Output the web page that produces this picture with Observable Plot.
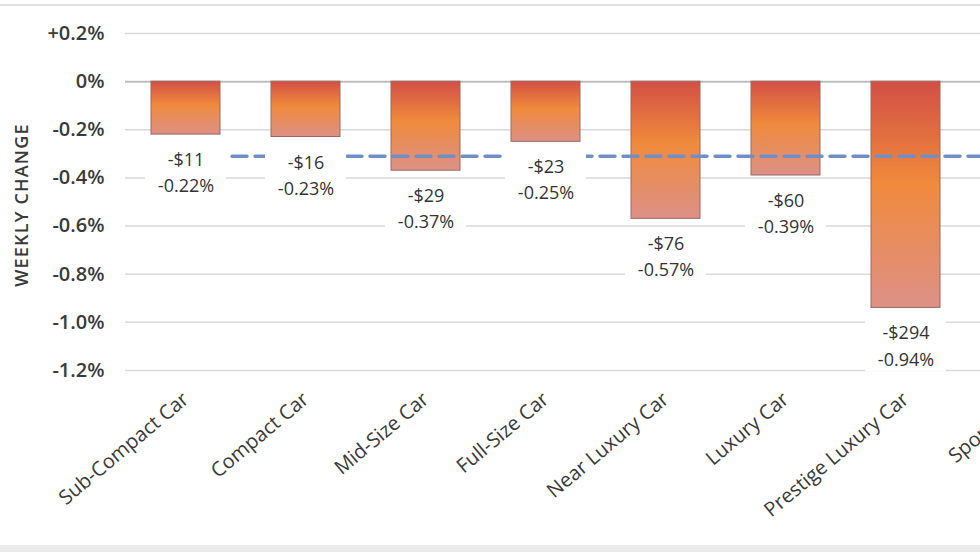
<!DOCTYPE html>
<html><head><meta charset="utf-8">
<script src="https://cdn.jsdelivr.net/npm/d3@7"></script>
<script src="https://cdn.jsdelivr.net/npm/@observablehq/plot@0.6"></script>
<style>
html,body{margin:0;padding:0;background:#fff;width:980px;height:552px;overflow:hidden;position:relative}
#chart{position:absolute;left:0;top:0;width:1100px}
#chart svg{max-width:none !important;width:1100px !important;height:552px !important}
#topline{position:absolute;left:0;top:4px;width:980px;height:2px;background:#e2e2e2}
#botband{position:absolute;left:0;top:545px;width:980px;height:7px;background:#ebebeb}
</style></head><body>
<div id="chart"></div><div id="topline"></div><div id="botband"></div>
<script>
const categories = ["Sub-Compact Car","Compact Car","Mid-Size Car","Full-Size Car","Near Luxury Car","Luxury Car","Prestige Luxury Car","Sports Car"];
// weekly change in percent (Sports Car bar lies outside the picture)
const pctChange = [-0.22,-0.23,-0.37,-0.25,-0.57,-0.39,-0.94];
const dollarChange = [-11,-16,-29,-23,-76,-60,-294];
const averageChange = -0.31;
const yTicks = [0.2,0,-0.2,-0.4,-0.6,-0.8,-1.0,-1.2];
const yTickLabels = ["+0.2%","0%","-0.2%","-0.4%","-0.6%","-0.8%","-1.0%","-1.2%"];

const data = pctChange.map((v,i)=>({cat:categories[i], pct:v, usd:dollarChange[i]}));
const label = d => `-$${Math.abs(d.usd)}\n${d.pct.toFixed(2)}%`;

const chart = Plot.plot({
  width:1100, height:552, marginLeft:125, marginRight:15, marginTop:33, marginBottom:182,
  style:{fontFamily:"'Open Sans', sans-serif", color:"#3a3a3a", background:"transparent", overflow:"visible", maxWidth:"none"},
  x:{domain:categories, paddingInner:0.425, paddingOuter:0.2125, label:null},
  y:{domain:[-1.2,0.2], label:null},
  marks:[
    Plot.ruleY(yTicks.filter(t=>t!==0), {stroke:"#d9d9d9", strokeWidth:1.5}),
    Plot.ruleY([0], {stroke:"#bdbdbd", strokeWidth:2}),
    Plot.barY(data, {x:"cat", y:"pct", fill:"url(#barGrad)", stroke:"#9a6a62", strokeWidth:1}),
    Plot.lineY(categories, {x:d=>d, y:()=>averageChange, stroke:"#6f8fc6", strokeWidth:3.5, strokeDasharray:"15,8"}),
    // white label boxes below each bar end
    Plot.barY(data, {x:"cat", y1:"pct", y2:"pct", insetTop:12, insetBottom:-64, insetLeft:-6, insetRight:-6, fill:"white"}),
    Plot.text(data, {x:"cat", y:"pct", text:label, lineAnchor:"top", dy:13, lineHeight:1.45, fontSize:18, fill:"#333"}),
    Plot.axisY({ticks:yTicks, tickFormat:d=>yTickLabels[yTicks.indexOf(d)], tickSize:0, tickPadding:21, fontSize:20, fontWeight:600, label:null}),
    Plot.axisX({tickSize:0, tickRotate:-40, tickPadding:26, fontSize:20, label:null}),
    Plot.text(["WEEKLY CHANGE"], {frameAnchor:"left", dx:-103, dy:3, rotate:-90, textAnchor:"middle", fontSize:18, fontWeight:600, fill:"#3a3a3a", className:"ytitle"})
  ]
});
d3.select(chart).selectAll(".ytitle text").style("letter-spacing","1.2px");
const defs = d3.select(chart).insert("defs", ":first-child");
const g = defs.append("linearGradient").attr("id","barGrad").attr("x1",0).attr("y1",0).attr("x2",0).attr("y2",1);
g.append("stop").attr("offset","0%").attr("stop-color","#d24f45");
g.append("stop").attr("offset","45%").attr("stop-color","#f08a3c");
g.append("stop").attr("offset","100%").attr("stop-color","#dd9087");
document.getElementById("chart").appendChild(chart);
</script>
</body></html>
